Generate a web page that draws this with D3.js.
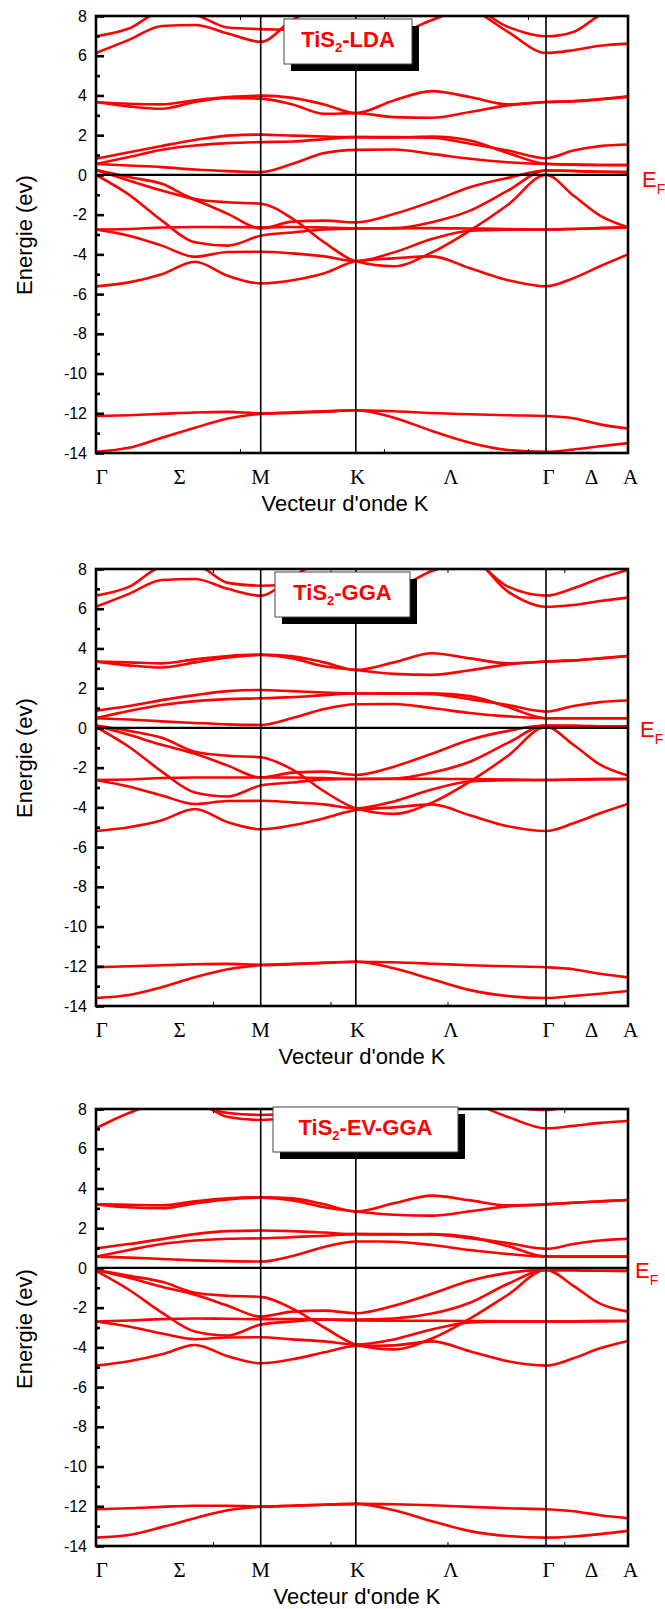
<!DOCTYPE html>
<html>
<head>
<meta charset="utf-8">
<script src="https://cdn.jsdelivr.net/npm/d3@7"></script>
<style>
  body { margin: 0; background: #fff; }
  svg { display: block; }
</style>
</head>
<body>
<svg id="chart" width="665" height="1609"></svg>
<script>
// k-path abscissa (Γ–M–K–Γ–A) at which every band energy is listed
const kPoints = [0, 0.173, 0.346, 0.52, 0.693, 0.866, 1.033, 1.2, 1.366, 1.566, 1.766, 1.966, 2.166, 2.366, 2.51, 2.65, 2.797];
const symPoints = [0.866, 1.366, 2.366];           // M, K, Γ
const kLabels = ["Γ", "Σ", "M", "K", "Λ", "Γ", "Δ", "A"];
const kLabelPos = [0.03, 0.44, 0.866, 1.375, 1.866, 2.38, 2.605, 2.81];
const yMajorTicks = [-14, -12, -10, -8, -6, -4, -2, 0, 2, 4, 6, 8];
const yMinorTicks = [-13, -11, -9, -7, -5, -3, -1, 1, 3, 5, 7];
const xTicksLDA = [0.757, 1.514, 2.271];
const xTicksGGA = [0.615, 1.233, 1.848, 2.462];
const panelTitles = ["-LDA", "-GGA", "-EV-GGA"];

// Energies (eV) of each band at kPoints — TiS2, LDA
const bandsLDA = [
  [6.14, 6.8, 7.5, 7.55, 7.12, 6.7, 7.8, 8.5, 8.8, 8.8, 8.8, 8.4, 7.2, 6.14, 6.28, 6.5, 6.61],
  [6.98, 7.37, 8.2, 8.05, 7.42, 7.34, 7.3, 7.2, 7.2, 7.1, 7.8, 8.4, 7.45, 6.98, 7.2, 8.05, 8.6],
  [3.67, 3.45, 3.33, 3.67, 3.88, 3.84, 3.55, 3.08, 3.11, 2.91, 2.88, 3.17, 3.5, 3.67, 3.7, 3.8, 3.93],
  [3.67, 3.58, 3.55, 3.76, 3.92, 3.99, 3.88, 3.55, 3.11, 3.75, 4.22, 3.92, 3.55, 3.67, 3.72, 3.82, 3.96],
  [0.81, 1.14, 1.46, 1.76, 1.98, 2.03, 1.98, 1.93, 1.9, 1.9, 1.87, 1.57, 1.23, 0.84, 1.23, 1.45, 1.53],
  [0.55, 0.9, 1.27, 1.48, 1.6, 1.65, 1.68, 1.8, 1.9, 1.88, 1.93, 1.73, 1.1, 0.56, 0.52, 0.5, 0.5],
  [0.55, 0.47, 0.39, 0.27, 0.19, 0.14, 0.56, 1.1, 1.26, 1.28, 1.06, 0.81, 0.64, 0.55, 0.52, 0.5, 0.49],
  [0.25, -0.11, -0.45, -1.21, -1.38, -1.45, -2.2, -3.4, -4.35, -4.6, -3.9, -2.8, -1.5, 0.0, -1.04, -2.05, -2.64],
  [0.25, -0.28, -0.79, -1.26, -1.96, -2.7, -2.35, -2.3, -2.39, -1.97, -1.34, -0.62, -0.15, 0.22, 0.2, 0.16, 0.14],
  [0.0, -0.99, -2.3, -3.39, -3.56, -3.06, -2.9, -2.75, -2.69, -2.68, -2.38, -1.8, -0.79, 0.22, 0.2, 0.16, 0.14],
  [-2.75, -2.72, -2.65, -2.62, -2.63, -2.64, -2.62, -2.65, -2.69, -2.69, -2.68, -2.7, -2.72, -2.75, -2.72, -2.68, -2.64],
  [-2.75, -3.06, -3.56, -4.12, -3.88, -3.87, -3.95, -4.1, -4.35, -3.9, -3.23, -2.81, -2.76, -2.75, -2.72, -2.68, -2.64],
  [-5.61, -5.41, -5.0, -4.37, -5.08, -5.46, -5.3, -4.95, -4.35, -4.2, -4.1, -4.7, -5.3, -5.61, -5.2, -4.6, -4.0],
  [-12.14, -12.1, -12.03, -11.96, -11.93, -12.0, -11.95, -11.9, -11.85, -11.9, -11.99, -12.05, -12.1, -12.14, -12.25, -12.56, -12.77],
  [-13.94, -13.74, -13.23, -12.73, -12.26, -12.03, -11.98, -11.92, -11.85, -12.22, -12.89, -13.48, -13.85, -13.94, -13.82, -13.66, -13.5]
];

// TiS2, GGA
const bandsGGA = [
  [6.1, 6.75, 7.45, 7.5, 7.0, 6.66, 7.6, 8.5, 8.8, 8.8, 8.8, 8.6, 6.86, 6.1, 6.19, 6.39, 6.56],
  [6.66, 7.1, 8.1, 8.2, 7.3, 7.16, 7.2, 7.2, 7.2, 7.1, 7.9, 8.4, 7.11, 6.66, 7.03, 7.53, 7.95],
  [3.34, 3.15, 3.04, 3.3, 3.55, 3.67, 3.5, 3.1, 2.92, 2.72, 2.67, 2.9, 3.2, 3.34, 3.4, 3.5, 3.62],
  [3.34, 3.3, 3.25, 3.45, 3.62, 3.69, 3.6, 3.3, 2.92, 3.3, 3.76, 3.5, 3.25, 3.34, 3.4, 3.5, 3.62],
  [0.86, 1.1, 1.4, 1.65, 1.85, 1.91, 1.85, 1.78, 1.74, 1.74, 1.7, 1.45, 1.15, 0.82, 1.1, 1.3, 1.38],
  [0.49, 0.85, 1.15, 1.35, 1.45, 1.49, 1.55, 1.65, 1.74, 1.72, 1.74, 1.6, 1.05, 0.49, 0.49, 0.49, 0.49],
  [0.49, 0.42, 0.33, 0.25, 0.18, 0.15, 0.5, 0.95, 1.19, 1.2, 1.0, 0.75, 0.58, 0.49, 0.49, 0.49, 0.49],
  [0.12, -0.15, -0.5, -1.2, -1.4, -1.48, -2.1, -3.2, -4.05, -4.33, -3.76, -2.7, -1.4, 0.05, -0.85, -1.85, -2.4],
  [0.12, -0.35, -0.85, -1.3, -1.9, -2.5, -2.25, -2.2, -2.37, -1.95, -1.3, -0.6, -0.15, 0.12, 0.1, 0.08, 0.07],
  [0.05, -0.95, -2.2, -3.25, -3.45, -2.9, -2.75, -2.6, -2.57, -2.55, -2.25, -1.7, -0.75, 0.12, 0.1, 0.08, 0.07],
  [-2.62, -2.6, -2.52, -2.5, -2.5, -2.5, -2.5, -2.53, -2.57, -2.57, -2.56, -2.58, -2.6, -2.62, -2.6, -2.58, -2.57],
  [-2.62, -2.95, -3.4, -3.83, -3.68, -3.67, -3.75, -3.85, -4.05, -3.7, -3.1, -2.7, -2.63, -2.62, -2.6, -2.58, -2.57],
  [-5.19, -5.0, -4.65, -4.08, -4.75, -5.1, -4.9, -4.55, -4.13, -4.0, -3.85, -4.4, -4.95, -5.19, -4.8, -4.3, -3.83],
  [-12.05, -12.0, -11.95, -11.9, -11.88, -11.92, -11.88, -11.82, -11.77, -11.8, -11.87, -11.95, -12.0, -12.05, -12.15, -12.38, -12.56],
  [-13.6, -13.45, -13.05, -12.55, -12.15, -11.95, -11.9, -11.83, -11.77, -12.1, -12.65, -13.2, -13.5, -13.6, -13.5, -13.38, -13.24]
];

// TiS2, EV-GGA
const bandsEVGGA = [
  [7.03, 7.8, 8.3, 8.3, 7.6, 7.45, 7.6, 7.8, 8.2, 8.5, 8.5, 8.3, 7.6, 7.03, 7.15, 7.3, 7.4],
  [7.95, 8.2, 8.4, 8.2, 7.8, 7.7, 7.8, 8.1, 8.4, 8.6, 8.6, 8.4, 8.1, 7.95, 8.2, 8.5, 8.6],
  [3.2, 3.05, 3.0, 3.25, 3.45, 3.54, 3.4, 3.05, 2.84, 2.68, 2.63, 2.85, 3.1, 3.2, 3.28, 3.35, 3.42],
  [3.2, 3.18, 3.15, 3.35, 3.5, 3.56, 3.5, 3.2, 2.84, 3.25, 3.64, 3.4, 3.15, 3.2, 3.28, 3.35, 3.42],
  [0.99, 1.2, 1.45, 1.7, 1.85, 1.88, 1.85, 1.78, 1.7, 1.7, 1.68, 1.5, 1.25, 0.96, 1.2, 1.38, 1.46],
  [0.57, 0.9, 1.2, 1.38, 1.47, 1.49, 1.55, 1.62, 1.7, 1.68, 1.7, 1.55, 1.1, 0.57, 0.57, 0.57, 0.57],
  [0.57, 0.52, 0.45, 0.38, 0.34, 0.32, 0.6, 1.05, 1.33, 1.32, 1.15, 0.9, 0.7, 0.57, 0.57, 0.57, 0.57],
  [-0.1, -0.4, -0.7, -1.25, -1.4, -1.46, -2.05, -3.0, -3.85, -4.1, -3.55, -2.55, -1.35, -0.1, -0.9, -1.8, -2.2],
  [-0.1, -0.5, -0.95, -1.35, -1.9, -2.45, -2.2, -2.15, -2.28, -1.9, -1.3, -0.65, -0.25, -0.1, -0.12, -0.14, -0.15],
  [-0.15, -1.1, -2.25, -3.2, -3.4, -2.85, -2.7, -2.6, -2.6, -2.55, -2.3, -1.75, -0.8, -0.1, -0.12, -0.14, -0.15],
  [-2.7, -2.65, -2.58, -2.55, -2.56, -2.58, -2.58, -2.6, -2.65, -2.66, -2.66, -2.67, -2.69, -2.7, -2.69, -2.68, -2.67],
  [-2.7, -2.95, -3.3, -3.59, -3.5, -3.49, -3.6, -3.7, -3.85, -3.6, -3.1, -2.75, -2.7, -2.7, -2.69, -2.68, -2.67],
  [-4.92, -4.7, -4.35, -3.88, -4.45, -4.8, -4.6, -4.25, -3.93, -3.9, -3.7, -4.2, -4.7, -4.92, -4.55, -4.05, -3.68],
  [-12.15, -12.1, -12.03, -11.97, -11.97, -12.02, -11.97, -11.92, -11.88, -11.9, -11.95, -12.03, -12.1, -12.15, -12.25, -12.45, -12.6],
  [-13.58, -13.45, -13.05, -12.6, -12.2, -12.02, -11.97, -11.92, -11.88, -12.2, -12.75, -13.25, -13.5, -13.58, -13.52, -13.4, -13.24]
];

// ---- layout ----
const SANS = "'Liberation Sans', Arial, Helvetica, sans-serif";
const SERIF = "'Liberation Serif', 'Times New Roman', serif";
const RED = "#ff0000";
const plotLeft = 96, plotRight = 628, plotH = 437;

const panels = [
  { bands: bandsLDA,   title: panelTitles[0], top: 16,   box: [284, 19, 128, 45],   xTicks: xTicksLDA, efX: 642, efDy: 12, xTitleX: 345, yTitleY: 235 },
  { bands: bandsGGA,   title: panelTitles[1], top: 569,  box: [275, 572, 135, 45],  xTicks: xTicksGGA, efX: 640, efDy: 9,  xTitleX: 362, yTitleY: 758 },
  { bands: bandsEVGGA, title: panelTitles[2], top: 1109, box: [273, 1107, 185, 45], xTicks: xTicksGGA, efX: 635, efDy: 10, xTitleX: 357, yTitleY: 1329 }
];

const svg = d3.select("#chart");
const x = d3.scaleLinear().domain([0, kPoints[kPoints.length - 1]]).range([plotLeft, plotRight]);

panels.forEach((p, pi) => {
  const bottom = p.top + plotH;
  const y = d3.scaleLinear().domain([-14, 8]).range([bottom, p.top]);
  const g = svg.append("g");

  const clipId = "clip" + pi;
  svg.append("defs").append("clipPath").attr("id", clipId)
    .append("rect").attr("x", plotLeft).attr("y", p.top)
    .attr("width", plotRight - plotLeft).attr("height", plotH);

  // bands
  const line = d3.line()
    .x((d, i) => x(kPoints[i]))
    .y(d => y(d))
    .curve(d3.curveMonotoneX);
  g.append("g").attr("clip-path", `url(#${clipId})`)
    .selectAll("path").data(p.bands).join("path")
    .attr("d", line)
    .attr("fill", "none")
    .attr("stroke", RED)
    .attr("stroke-width", 2.6)
    .attr("stroke-linejoin", "round");

  // high-symmetry verticals
  g.selectAll("line.sym").data(symPoints).join("line")
    .attr("class", "sym")
    .attr("x1", d => x(d)).attr("x2", d => x(d))
    .attr("y1", p.top).attr("y2", bottom)
    .attr("stroke", "#000").attr("stroke-width", 1.6);

  // Fermi level
  g.append("line")
    .attr("x1", plotLeft).attr("x2", plotRight)
    .attr("y1", y(0)).attr("y2", y(0))
    .attr("stroke", "#000").attr("stroke-width", 2.4);

  // y axis: major (labelled) and minor ticks, pointing inward
  const yAx = g.append("g").attr("transform", `translate(${plotLeft},0)`)
    .call(d3.axisLeft(y).tickValues(yMajorTicks).tickSizeInner(-8).tickSizeOuter(0)
      .tickPadding(9).tickFormat(d => String(d)));
  yAx.select(".domain").remove();
  yAx.selectAll("line").attr("stroke-width", 2.6);
  yAx.selectAll("text").attr("font-family", SANS).attr("font-size", 16).attr("fill", "#000");

  const yMin = g.append("g").attr("transform", `translate(${plotLeft},0)`)
    .call(d3.axisLeft(y).tickValues(yMinorTicks).tickSizeInner(-4).tickSizeOuter(0).tickFormat(""));
  yMin.select(".domain").remove();
  yMin.selectAll("line").attr("stroke-width", 2.6);

  // small ticks along bottom and top edges
  const xb = g.append("g").attr("transform", `translate(0,${bottom})`)
    .call(d3.axisBottom(x).tickValues(p.xTicks).tickSizeInner(-4).tickSizeOuter(0).tickFormat(""));
  xb.select(".domain").remove();
  xb.selectAll("line").attr("stroke-width", 1);
  const xt = g.append("g").attr("transform", `translate(0,${p.top})`)
    .call(d3.axisTop(x).tickValues(p.xTicks).tickSizeInner(-4).tickSizeOuter(0).tickFormat(""));
  xt.select(".domain").remove();
  xt.selectAll("line").attr("stroke-width", 1);

  // frame
  g.append("rect")
    .attr("x", plotLeft).attr("y", p.top)
    .attr("width", plotRight - plotLeft).attr("height", plotH)
    .attr("fill", "none").attr("stroke", "#000").attr("stroke-width", 2.6);

  // high-symmetry labels
  g.selectAll("text.klab").data(kLabels).join("text")
    .attr("class", "klab")
    .attr("x", (d, i) => x(kLabelPos[i]))
    .attr("y", bottom + 30.5)
    .attr("text-anchor", "middle")
    .attr("font-family", SERIF).attr("font-size", 21).attr("fill", "#000")
    .text(d => d);

  // axis titles
  g.append("text")
    .attr("x", p.xTitleX).attr("y", bottom + 57.5)
    .attr("text-anchor", "middle")
    .attr("font-family", SANS).attr("font-size", 22).attr("fill", "#000")
    .text("Vecteur d'onde K");
  g.append("text")
    .attr("transform", `translate(32,${p.yTitleY}) rotate(-90)`)
    .attr("text-anchor", "middle")
    .attr("font-family", SANS).attr("font-size", 22).attr("fill", "#000")
    .text("Energie (ev)");

  // Fermi level label
  const ef = g.append("text")
    .attr("x", p.efX).attr("y", y(0) + p.efDy)
    .attr("font-family", SANS).attr("font-size", 22).attr("fill", RED);
  ef.append("tspan").text("E");
  ef.append("tspan").attr("font-size", 14).attr("dy", 7).text("F");

  // legend box with drop shadow
  const [bx, by, bw, bh] = p.box;
  g.append("rect").attr("x", bx + 7).attr("y", by + 7).attr("width", bw).attr("height", bh).attr("fill", "#000");
  g.append("rect").attr("x", bx).attr("y", by).attr("width", bw).attr("height", bh)
    .attr("fill", "#fff").attr("stroke", "#444").attr("stroke-width", 1);
  const lt = g.append("text")
    .attr("x", bx + bw / 2).attr("y", by + 28)
    .attr("text-anchor", "middle")
    .attr("font-family", SANS).attr("font-weight", "bold").attr("font-size", 22).attr("fill", RED);
  lt.append("tspan").text("TiS");
  lt.append("tspan").attr("font-size", 13).attr("dy", 5).text("2");
  lt.append("tspan").attr("dy", -5).text(p.title);
});
</script>
</body>
</html>
